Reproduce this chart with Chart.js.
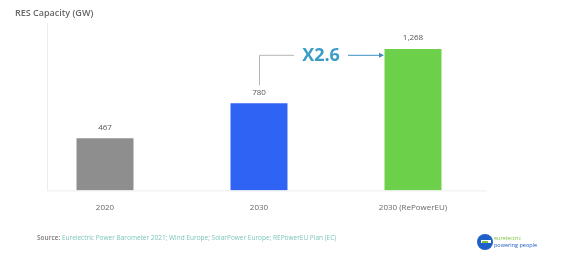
<!DOCTYPE html>
<html>
<head>
<meta charset="utf-8">
<script src="https://cdn.jsdelivr.net/npm/chart.js@4.4.1/dist/chart.umd.min.js"></script>
<style>
  html, body { margin: 0; padding: 0; background: #fff; }
  body { width: 574px; height: 266px; position: relative; overflow: hidden; font-family: "Open Sans", sans-serif; }
  #wrap { position: absolute; left: 0; top: 0; width: 574px; height: 266px; }
  .title { position: absolute; left: 15px; top: 6px; font-size: 9px; font-weight: 600; color: #666; }
  .source { position: absolute; left: 37px; top: 233px; font-size: 6.5px; color: #7cc6b8; white-space: nowrap; }
  .source b { color: #777; font-weight: 600; }
  .logo { position: absolute; left: 477px; top: 234px; }
  .logo .e { position: absolute; left: 0; top: 0; width: 16px; height: 16px; border-radius: 50%; background: #1f5fc8; }
  .logo .e::after { content: ""; position: absolute; left: 4px; top: 6px; width: 10px; height: 3px; background: #fff; }
  .logo .e::before { content: ""; position: absolute; left: 5px; top: 7px; width: 6px; height: 2px; background: #7cc242; z-index: 1; }
  .logo .t { position: absolute; left: 17px; top: 1px; font-size: 5.5px; line-height: 6.5px; white-space: nowrap; }
  .logo .t1 { color: #7cc242; }
  .logo .t2 { color: #1f5fc8; }
</style>
</head>
<body>
<div id="wrap"><canvas id="chart" width="574" height="266"></canvas></div>
<div class="title">RES Capacity (GW)</div>
<div class="source"><b>Source:</b> Eurelectric Power Barometer 2021; Wind Europe; SolarPower Europe; REPowerEU Plan (EC)</div>
<div class="logo"><div class="e"></div><div class="t"><div class="t1">eurelectric</div><div class="t2">powering people</div></div></div>
<script>
const categories = ['2020', '2030', '2030 (RePowerEU)'];
const capacity = [467, 780, 1268];
const barColors = ['#8e8e8e', '#2f63f4', '#6dd04b'];
const growthLabel = 'X2.6';

const decor = {
  id: 'decor',
  afterDatasetsDraw(chart) {
    const { ctx, chartArea, scales } = chart;
    const x = scales.x, y = scales.y;
    const y0 = y.getPixelForValue(0);
    const left = chartArea.left + 19;
    ctx.save();
    // faint axis lines
    ctx.strokeStyle = '#ececec';
    ctx.lineWidth = 1;
    ctx.beginPath();
    ctx.moveTo(left + 0.5, chartArea.top);
    ctx.lineTo(left + 0.5, y0);
    ctx.moveTo(left, y0 + 0.5);
    ctx.lineTo(chartArea.right - 3, y0 + 0.5);
    ctx.stroke();

    // value labels
    ctx.fillStyle = '#555';
    ctx.font = '8px "Open Sans", sans-serif';
    ctx.textAlign = 'center';
    ctx.textBaseline = 'middle';
    const meta = chart.getDatasetMeta(0);
    meta.data.forEach((bar, i) => {
      ctx.fillText(capacity[i].toLocaleString('en-US'), bar.x, bar.y - 11);
    });

    // growth annotation
    const b1 = meta.data[1], b2 = meta.data[2];
    const ay = y.getPixelForValue(1215);
    const tx = (b1.x + b2.x) / 2 - 15;
    ctx.strokeStyle = '#b5b5b5';
    ctx.beginPath();
    ctx.moveTo(b1.x + 0.5, b1.y - 18);
    ctx.lineTo(b1.x + 0.5, ay + 0.5);
    ctx.lineTo(tx - 27, ay + 0.5);
    ctx.stroke();
    ctx.fillStyle = '#3b9dc6';
    ctx.font = 'bold 18px "Open Sans", sans-serif';
    ctx.fillText(growthLabel, tx, ay + 1);
    ctx.strokeStyle = '#3b8fc4';
    ctx.beginPath();
    ctx.moveTo(tx + 27, ay + 0.5);
    ctx.lineTo(b2.x - 32, ay + 0.5);
    ctx.stroke();
    ctx.fillStyle = '#3b8fc4';
    ctx.beginPath();
    ctx.moveTo(b2.x - 29, ay + 0.5);
    ctx.lineTo(b2.x - 34, ay - 2);
    ctx.lineTo(b2.x - 34, ay + 3);
    ctx.closePath();
    ctx.fill();
    ctx.restore();
  }
};

new Chart(document.getElementById('chart'), {
  type: 'bar',
  data: {
    labels: categories,
    datasets: [{
      data: capacity,
      backgroundColor: barColors,
      borderWidth: 0,
      barPercentage: 0.37,
      categoryPercentage: 1
    }]
  },
  options: {
    responsive: false,
    animation: false,
    layout: { padding: { left: 28, right: 84, top: 23, bottom: 48 } },
    scales: {
      x: {
        grid: { display: false },
        border: { display: false },
        ticks: { color: '#666', padding: 5, maxRotation: 0, font: { size: 8, family: '"Open Sans", sans-serif' } }
      },
      y: { display: false, min: 0, max: 1500 }
    },
    plugins: { legend: { display: false }, tooltip: { enabled: false } }
  },
  plugins: [decor]
});
</script>
</body>
</html>
